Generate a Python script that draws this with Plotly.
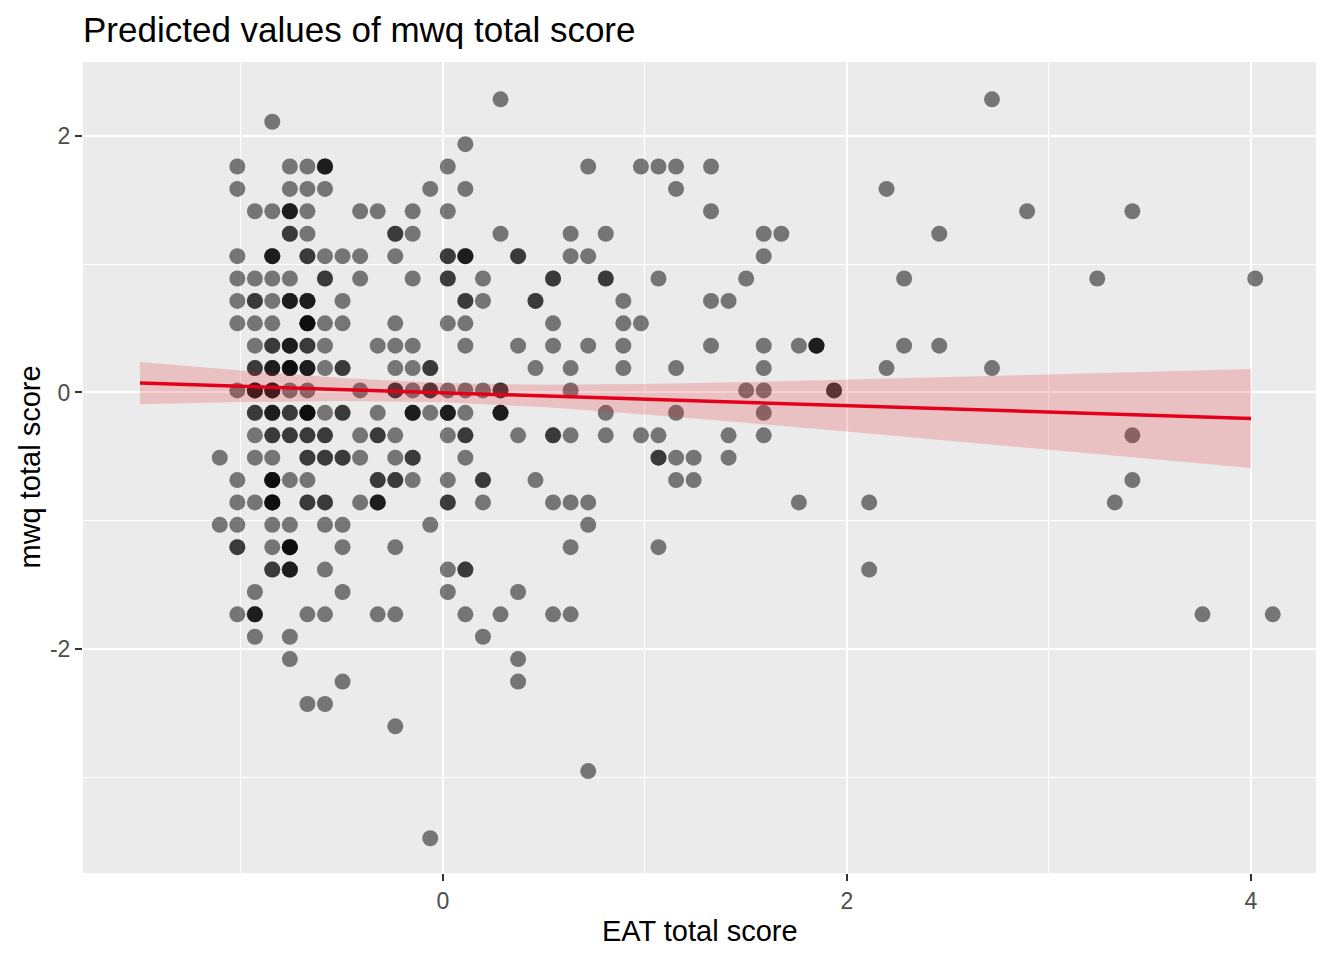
import plotly.graph_objects as go

# ---- observed data (EAT total score vs mwq total score), n = overplotted count ----
pt_x = [
    0.285, 2.718,
    -0.845,
    0.111,
    -1.018, -0.758, -0.671, -0.584, 0.024, 0.719, 0.980, 1.067, 1.154, 1.327,
    -1.018, -0.758, -0.671, -0.584, -0.063, 0.111, 1.154, 2.196,
    -0.931, -0.845, -0.758, -0.671, -0.410, -0.323, -0.150, 0.024, 1.327, 2.892, 3.413,
    -0.758, -0.671, -0.236, -0.150, 0.285, 0.632, 0.806, 1.588, 1.675, 2.457,
    -1.018, -0.845, -0.671, -0.584, -0.497, -0.410, -0.236, 0.024, 0.111, 0.372, 0.632, 0.719, 1.588,
    -1.018, -0.931, -0.845, -0.758, -0.584, -0.410, -0.150, 0.024, 0.198, 0.545, 0.806, 1.067, 1.501, 2.283, 3.239, 4.021,
    -1.018, -0.931, -0.845, -0.758, -0.671, -0.497, 0.111, 0.198, 0.458, 0.893, 1.327, 1.414,
    -1.018, -0.931, -0.845, -0.671, -0.584, -0.497, -0.236, 0.024, 0.111, 0.545, 0.893, 0.980,
    -0.931, -0.845, -0.758, -0.671, -0.584, -0.323, -0.236, -0.150, 0.111, 0.372, 0.545, 0.719, 0.893, 1.327, 1.588, 1.762, 1.849, 2.283, 2.457,
    -0.931, -0.845, -0.758, -0.671, -0.584, -0.497, -0.236, -0.150, -0.063, 0.458, 0.632, 0.893, 1.154, 1.588, 2.196, 2.718,
    -1.018, -0.931, -0.845, -0.758, -0.671, -0.410, -0.236, -0.150, -0.063, 0.024, 0.111, 0.198, 0.285, 0.632, 1.501, 1.588, 1.936,
    -0.931, -0.845, -0.758, -0.671, -0.584, -0.497, -0.323, -0.150, -0.063, 0.024, 0.111, 0.285, 0.806, 1.154, 1.588,
    -0.931, -0.845, -0.758, -0.671, -0.584, -0.410, -0.323, -0.236, 0.024, 0.111, 0.372, 0.545, 0.632, 0.806, 0.980, 1.067, 1.414, 1.588, 3.413,
    -1.105, -0.931, -0.845, -0.671, -0.584, -0.497, -0.410, -0.236, -0.150, 0.111, 1.067, 1.154, 1.241, 1.414,
    -1.018, -0.845, -0.758, -0.671, -0.323, -0.236, -0.150, 0.024, 0.198, 0.458, 1.154, 1.241, 3.413,
    -1.018, -0.931, -0.845, -0.671, -0.584, -0.410, -0.323, 0.024, 0.198, 0.545, 0.632, 0.719, 1.762, 2.110, 3.326,
    -1.105, -1.018, -0.845, -0.758, -0.584, -0.497, -0.063, 0.719,
    -1.018, -0.845, -0.758, -0.497, -0.236, 0.632, 1.067,
    -0.845, -0.758, -0.584, 0.024, 0.111, 2.110,
    -0.931, -0.497, 0.024, 0.372,
    -1.018, -0.931, -0.671, -0.584, -0.323, -0.236, 0.111, 0.285, 0.545, 0.632, 3.760, 4.108,
    -0.931, -0.758, 0.198,
    -0.758, 0.372,
    -0.497, 0.372,
    -0.671, -0.584,
    -0.236,
    0.719,
    -0.063,
]
row_y = [2.286, 2.111, 1.936, 1.762, 1.587, 1.413, 1.238, 1.063, 0.889, 0.714, 0.539,
         0.365, 0.190, 0.016, -0.159, -0.334, -0.508, -0.683, -0.857, -1.032, -1.206,
         -1.381, -1.556, -1.730, -1.905, -2.079, -2.254, -2.429, -2.603, -2.952, -3.476]
row_len = [2, 1, 1, 10, 8, 11, 10, 13, 16, 12, 12,
           19, 16, 17, 15, 19, 14, 13, 15, 8, 7,
           6, 4, 12, 3, 2, 2, 2, 1, 1, 1]
pt_n = [
    1, 1,
    1,
    1,
    1, 1, 1, 3, 1, 1, 1, 1, 1, 1,
    1, 1, 1, 1, 1, 1, 1, 1,
    1, 1, 3, 1, 1, 1, 1, 1, 1, 1, 1,
    2, 1, 2, 1, 1, 1, 1, 1, 1, 1,
    1, 3, 2, 1, 1, 1, 1, 2, 3, 2, 1, 1, 1,
    1, 1, 1, 1, 2, 1, 1, 2, 1, 2, 2, 1, 1, 1, 1, 1,
    1, 2, 1, 3, 3, 1, 2, 1, 2, 1, 1, 1,
    1, 1, 1, 4, 1, 1, 1, 1, 1, 1, 1, 1,
    1, 2, 3, 2, 1, 1, 1, 1, 1, 1, 1, 1, 1, 1, 1, 1, 3, 1, 1,
    2, 3, 4, 3, 1, 2, 1, 1, 2, 1, 1, 1, 1, 1, 1, 1,
    1, 3, 3, 1, 1, 1, 2, 1, 2, 1, 1, 1, 2, 1, 1, 1, 2,
    2, 3, 2, 4, 1, 2, 1, 3, 1, 3, 1, 3, 1, 1, 1,
    1, 2, 2, 2, 2, 1, 2, 1, 1, 2, 1, 2, 1, 1, 1, 1, 1, 1, 1,
    1, 1, 1, 2, 2, 2, 1, 1, 2, 1, 2, 1, 1, 1,
    1, 4, 1, 1, 2, 2, 1, 1, 2, 1, 1, 1, 1,
    1, 1, 4, 2, 2, 1, 3, 2, 1, 1, 1, 1, 1, 1, 1,
    1, 1, 1, 1, 1, 1, 1, 1,
    2, 1, 4, 1, 1, 1, 1,
    2, 3, 1, 1, 2, 1,
    1, 1, 1, 1,
    1, 3, 1, 1, 1, 1, 1, 1, 1, 1, 1, 1,
    1, 1, 1,
    1, 1,
    1, 1,
    1, 1,
    1,
    1,
    1,
]

# ---- model predictions with 95% CI ----
pred_x = [-1.5, -1.0, -0.5, 0.0, 0.5, 1.0, 1.5, 2.0, 2.5, 3.0, 3.5, 4.0]
pred_y = [0.073, 0.048, 0.023, -0.002, -0.027, -0.053, -0.078, -0.103, -0.128, -0.153, -0.178, -0.203]
pred_lo = [-0.091, -0.075, -0.067, -0.077, -0.114, -0.172, -0.237, -0.305, -0.375, -0.446, -0.517, -0.589]
pred_hi = [0.237, 0.171, 0.113, 0.073, 0.060, 0.066, 0.081, 0.099, 0.119, 0.140, 0.161, 0.183]

x_ticks = [0, 2, 4]
y_ticks = [-2, 0, 2]
y_ticktext = ["-2", "0", "2"]

# expand rows and overplot counts
pt_y = []
for yv, ln in zip(row_y, row_len):
    pt_y += [yv] * ln
xs, ys = [], []
for xv, yv, n in zip(pt_x, pt_y, pt_n):
    xs += [xv] * n
    ys += [yv] * n

FONT = "Liberation Sans, Arial, Helvetica, sans-serif"
fig = go.Figure()
fig.add_trace(go.Scatter(x=xs, y=ys, mode="markers",
                         marker=dict(size=16, color="rgba(0,0,0,0.5)", line=dict(width=0)),
                         hoverinfo="skip"))
fig.add_trace(go.Scatter(x=pred_x + pred_x[::-1], y=pred_hi + pred_lo[::-1],
                         mode="lines", fill="toself", line=dict(width=0),
                         fillcolor="rgba(228,26,28,0.2)", hoverinfo="skip"))
fig.add_trace(go.Scatter(x=pred_x, y=pred_y, mode="lines",
                         line=dict(color="#e3001b", width=3.5), hoverinfo="skip"))

axis_common = dict(showgrid=True, gridcolor="white", gridwidth=2.2, zeroline=False,
                   showline=False, ticks="outside", ticklen=7, tickwidth=1.5,
                   automargin=False,
                   tickcolor="#333333", tickfont=dict(family=FONT, size=23, color="#4D4D4D"))
fig.update_xaxes(range=[-1.782, 4.322], tickvals=x_ticks, ticktext=[str(v) for v in x_ticks],
                 minor=dict(tickvals=[-1, 1, 3], showgrid=True, gridcolor="white",
                            gridwidth=1.1, ticks=""),
                 **axis_common)
fig.update_yaxes(range=[-3.747, 2.577], tickvals=y_ticks, ticktext=y_ticktext,
                 minor=dict(tickvals=[-3, -1, 1], showgrid=True, gridcolor="white",
                            gridwidth=1.1, ticks=""),
                 **axis_common)

# the page adds an 8px body margin, so offsets are reduced by 8px on left/top
fig.update_layout(
    width=1344, height=960,
    margin=dict(l=75, r=36, t=54, b=95),
    plot_bgcolor="#EBEBEB", paper_bgcolor="white",
    showlegend=False,
    title=dict(text="Predicted values of mwq total score", x=75 / 1344, xanchor="left",
               xref="container", y=1 - 21.5 / 960, yanchor="middle", yref="container",
               automargin=False,
               font=dict(family=FONT, size=35, color="black")),
    annotations=[
        dict(text="EAT total score", xref="paper", yref="paper", x=0.5, y=0,
             xanchor="center", yanchor="middle", yshift=-58, showarrow=False,
             font=dict(family=FONT, size=29, color="black")),
        dict(text="mwq total score", xref="paper", yref="paper", x=0, y=0.5,
             xanchor="center", yanchor="middle", xshift=-54, textangle=-90, showarrow=False,
             font=dict(family=FONT, size=29, color="black")),
    ],
)
fig.write_html("out.html")
